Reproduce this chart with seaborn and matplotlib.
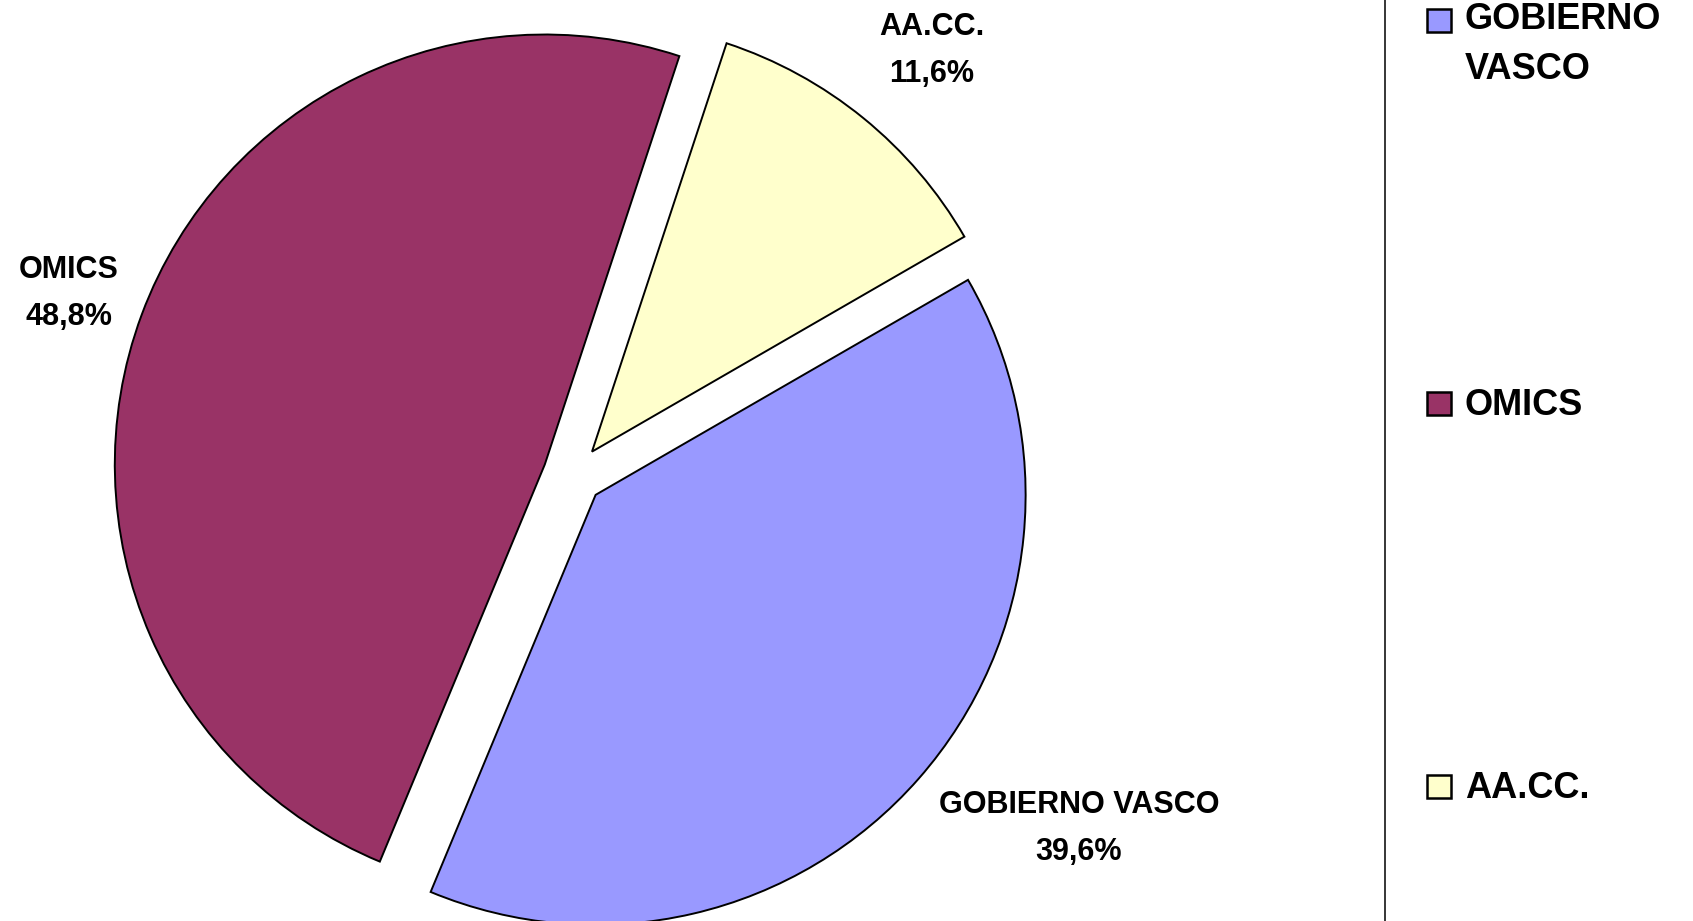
import matplotlib
matplotlib.use("Agg")
import matplotlib.pyplot as plt
import seaborn as sns
from matplotlib.patches import Rectangle
from matplotlib.lines import Line2D

# ---- data ----
categories = ["GOBIERNO VASCO", "OMICS", "AA.CC."]
legend_labels = ["GOBIERNO\nVASCO", "OMICS", "AA.CC."]
shares = [39.6, 48.8, 11.6]
pct_labels = ["39,6%", "48,8%", "11,6%"]
colors = ["#9999FF", "#993366", "#FFFFCC"]

sns.set_theme(style="white")
plt.rcParams["font.family"] = ["Liberation Sans", "DejaVu Sans"]

W, H = 1693, 921
fig = plt.figure(figsize=(W / 100, H / 100), dpi=100)
fig.patch.set_facecolor("white")
ax = fig.add_axes([0, 0, 1, 1])

cx, cy, R = 573, 475, 430  # pie centre (px from left / top) and radius in px
wedges, _ = ax.pie(
    shares,
    colors=colors,
    startangle=30,
    counterclock=False,
    explode=[0.07] * len(shares),
    radius=1,
    wedgeprops=dict(edgecolor="black", linewidth=1.4),
)
ax.set_aspect("auto")
ax.set_xlim(-cx / R, (W - cx) / R)
ax.set_ylim(-(H - cy) / R, cy / R)
ax.axis("off")

# slice labels: (centre x, baseline y of last line) in px
label_px = {"GOBIERNO VASCO": (1079, 860), "OMICS": (69, 325), "AA.CC.": (932, 82)}
for cat, pct in zip(categories, pct_labels):
    px, py = label_px[cat]
    ax.text((px - cx) / R, (cy - py) / R, f"{cat}\n{pct}",
            ha="center", va="baseline", multialignment="center",
            fontsize=22, fontweight="bold", color="black", linespacing=1.72)

# divider line
fig.add_artist(Line2D([1385 / W, 1385 / W], [0, 1], color="black", lw=1.1,
                      transform=fig.transFigure))

# legend
leg_rows = [(20.5, 79), (404, 415), (786, 798)]  # (square centre y, last-line baseline y) in px
for lab, col, (sy, by) in zip(legend_labels, colors, leg_rows):
    fig.add_artist(Rectangle((1427 / W, 1 - (sy + 11.5) / H), 24 / W, 23 / H,
                             facecolor=col, edgecolor="black", lw=1.8,
                             transform=fig.transFigure))
    fig.text(1465 / W, 1 - by / H, lab, ha="left", va="baseline",
             fontsize=26, fontweight="bold", color="black", linespacing=1.55)

fig.savefig("out.png", dpi=100, facecolor="white")
